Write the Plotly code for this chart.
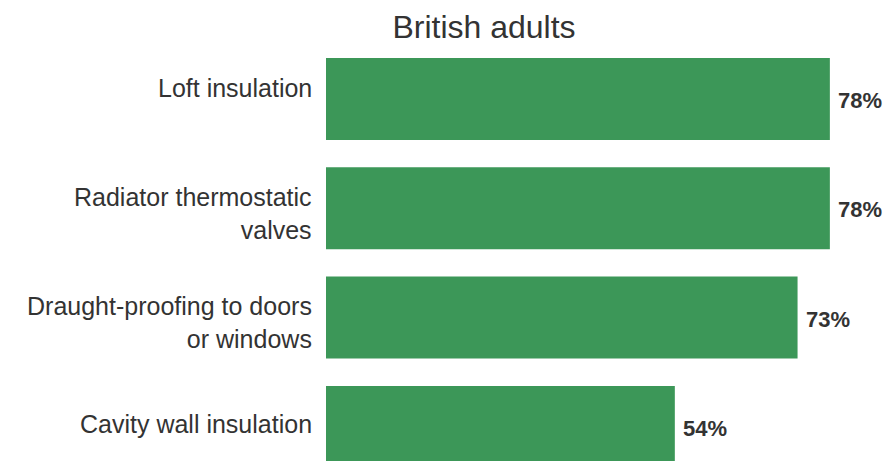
import plotly.graph_objects as go

categories = ["Loft insulation",
              "Radiator thermostatic<br>valves",
              "Draught-proofing to doors<br>or windows",
              "Cavity wall insulation"]
values = [78, 78, 73, 54]
positions = [0, 1, 2, 3]
value_labels = [f"<b>{v}%</b>" for v in values]

# style: vertical offset (px) of each label block relative to its bar centre
label_offsets = [-11, 5.5, 5, -2.5]
FONT = "Liberation Sans, Arial, sans-serif"
TXT = "#333333"

fig = go.Figure(go.Bar(
    x=values, y=positions, orientation="h",
    marker=dict(color="#3c9758", line=dict(width=0)),
    width=0.75,
    hoverinfo="skip",
))

annotations = []
for pos, lab, off in zip(positions, categories, label_offsets):
    annotations.append(dict(
        text=lab, x=0, xref="paper", y=pos, yref="y", align="right",
        xanchor="right", yanchor="middle", xshift=-12, yshift=-off,
        showarrow=False, font=dict(family=FONT, size=25, color=TXT)))
for pos, v, lab in zip(positions, values, value_labels):
    annotations.append(dict(
        text=lab, x=v, xref="x", y=pos, yref="y",
        xanchor="left", yanchor="middle", xshift=6, yshift=-1.5,
        showarrow=False, font=dict(family=FONT, size=22, color=TXT)))

fig.update_layout(
    width=888, height=461,
    margin=dict(l=326, r=0, t=44, b=0),
    paper_bgcolor="white", plot_bgcolor="white",
    showlegend=False,
    title=dict(text="British adults", x=484/888, xref="container", xanchor="center",
               y=1 - 27/461, yref="container", yanchor="middle",
               font=dict(family=FONT, size=32, color=TXT)),
    xaxis=dict(range=[0, 87], visible=False, fixedrange=True),
    yaxis=dict(range=[3.312, -0.503], visible=False, fixedrange=True),
    annotations=annotations,
)

fig.write_html("out.html", config={"displayModeBar": False},
               post_script="document.body.style.margin='0';document.body.style.overflow='hidden';")
